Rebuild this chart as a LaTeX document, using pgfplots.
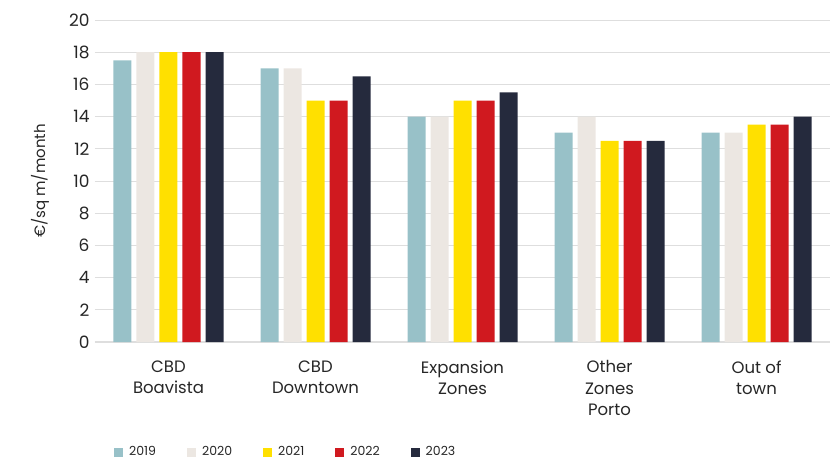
\documentclass[border=0pt]{standalone}
\usepackage{pgfplots}
\pgfplotsset{compat=1.18}
\usepackage{fontspec}
\setmainfont{Poppins}
\definecolor{c19}{HTML}{98C1C8}
\definecolor{c20}{HTML}{ECE7E2}
\definecolor{c21}{HTML}{FFE000}
\definecolor{c22}{HTML}{D0191F}
\definecolor{c23}{HTML}{252A3D}
\definecolor{gridc}{HTML}{DEDEDE}
\begin{document}
\begin{tikzpicture}
\useasboundingbox (-95bp,-119bp) rectangle (740bp,342bp);
\begin{axis}[
  at={(0,0)}, anchor=south west,
  scale only axis, width=735bp, height=322bp,
  ybar=5bp, bar width=18bp,
  xmin=-0.5, xmax=4.5, ymin=0, ymax=20,
  ytick={0,2,...,20},
  xtick={0,1,2,3,4},
  xticklabels={{CBD\\Boavista},{CBD\\Downtown},{Expansion\\Zones},{Other\\Zones\\Porto},{Out of\\town}},
  xticklabel style={align=center, font=\fontsize{16.5bp}{21.5bp}\selectfont, text=black!85, anchor=north, yshift=-15bp},
  yticklabel style={font=\fontsize{17bp}{18bp}\selectfont, text=black!85, xshift=-2bp},
  /pgf/number format/assume math mode=true,
  major tick length=0pt,
  axis x line*=bottom, axis y line*=left,
  y axis line style={draw=none},
  x axis line style={gridc, line width=1.2pt},
  ymajorgrids, grid style={gridc, line width=1pt},
  ylabel={€/sq m/month},
  every axis y label/.style={at={(-55bp,161bp)}, rotate=90, anchor=center,
    font=\fontsize{15bp}{16bp}\selectfont, text=black!85},
  legend style={at={(16bp,-110bp)}, anchor=west, draw=none, fill=none,
    font=\fontsize{12.5bp}{14bp}\selectfont, text=black!85,
    legend columns=-1, /tikz/every even column/.append style={column sep=29bp},
    /tikz/every odd column/.append style={column sep=4bp}},
  legend image code/.code={\fill[#1] (0bp,-4.5bp) rectangle (9bp,4.5bp);},
]
\addplot[fill=c19, draw=none] coordinates {(0,17.5) (1,17) (2,14) (3,13) (4,13)};
\addplot[fill=c20, draw=none] coordinates {(0,18) (1,17) (2,14) (3,14) (4,13)};
\addplot[fill=c21, draw=none] coordinates {(0,18) (1,15) (2,15) (3,12.5) (4,13.5)};
\addplot[fill=c22, draw=none] coordinates {(0,18) (1,15) (2,15) (3,12.5) (4,13.5)};
\addplot[fill=c23, draw=none] coordinates {(0,18) (1,16.5) (2,15.5) (3,12.5) (4,14)};
\legend{2019,2020,2021,2022,2023}
\end{axis}
\end{tikzpicture}
\end{document}
